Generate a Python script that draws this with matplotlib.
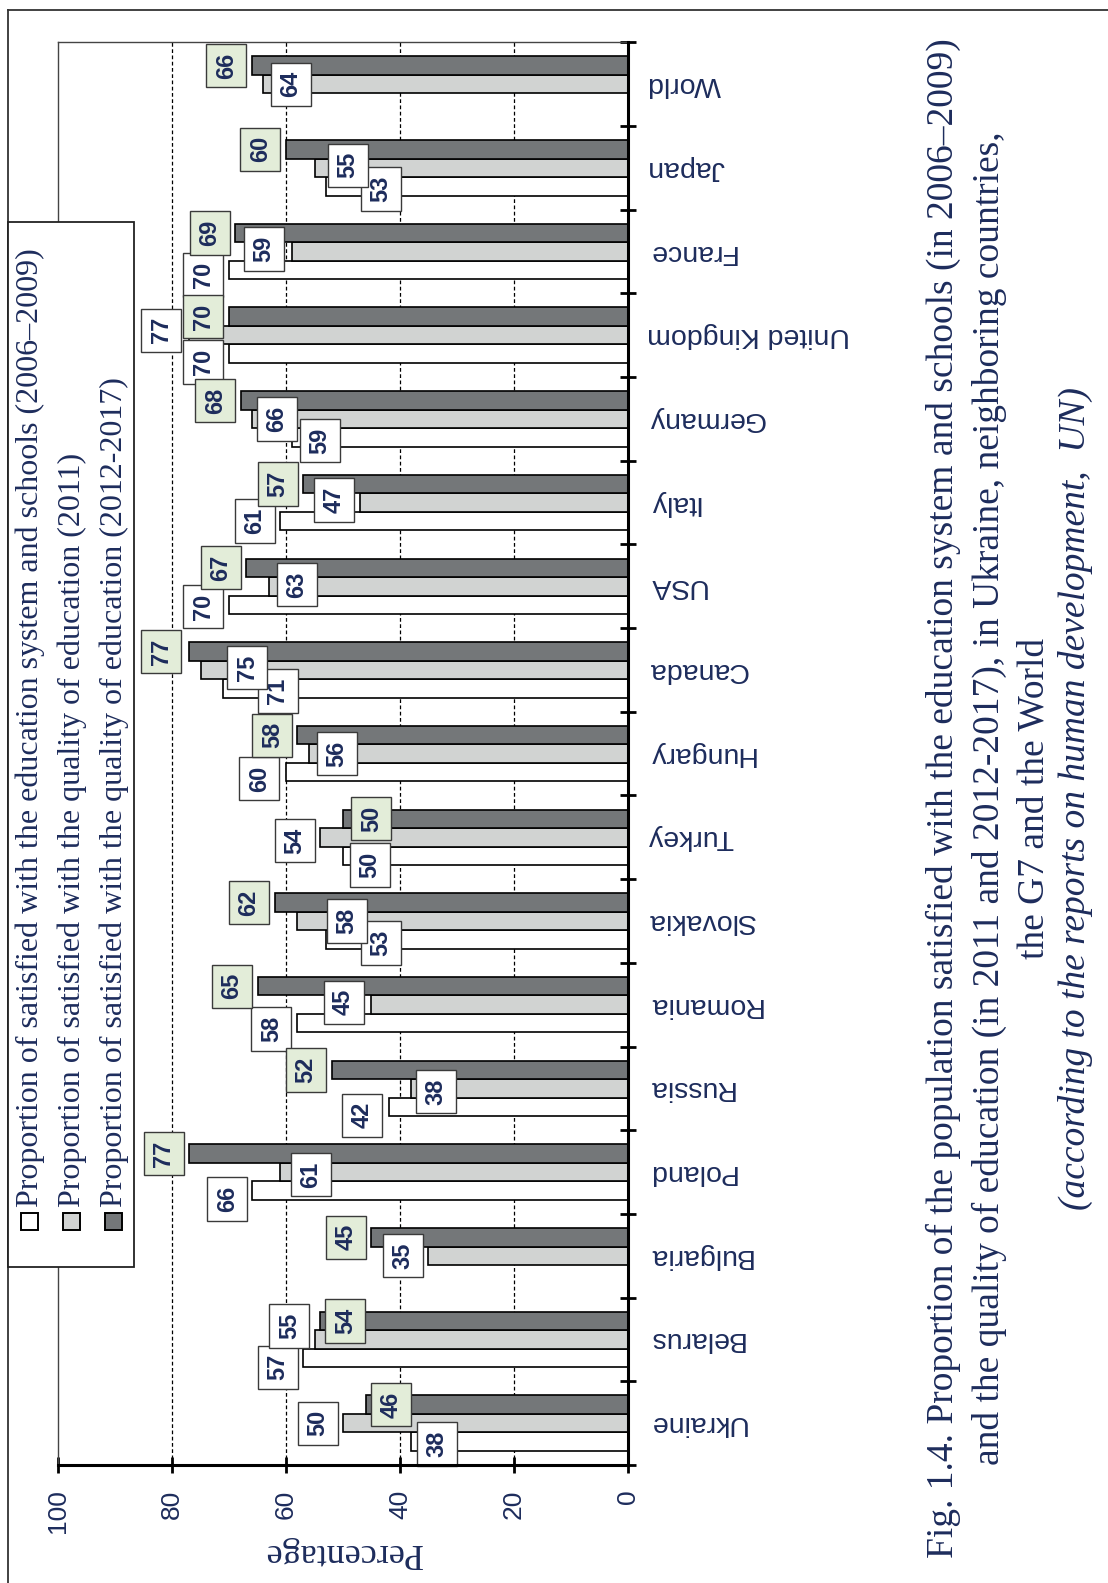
import numpy as np
import matplotlib
matplotlib.use("Agg")
import matplotlib.pyplot as plt
from matplotlib.patches import Rectangle
from matplotlib.lines import Line2D

# ---------------- data ----------------
countries = ["Ukraine", "Belarus", "Bulgaria", "Poland", "Russia", "Romania",
             "Slovakia", "Turkey", "Hungary", "Canada", "USA", "Italy",
             "Germany", "United Kingdom", "France", "Japan", "World"]
sat_2006_2009 = [38, 57, np.nan, 66, 42, 58, 53, 50, 60, 71, 70, 61, 59, 70, 70, 53, np.nan]
sat_2011 = [50, 55, 35, 61, 38, 45, 58, 54, 56, 75, 63, 47, 66, 77, 59, 55, 64]
sat_2012_2017 = [46, 54, 45, 77, 52, 65, 62, 50, 58, 77, 67, 57, 68, 70, 69, 60, 66]

series_names = [
    "Proportion of satisfied with the education system and schools (2006\u20132009)",
    "Proportion of satisfied with the quality of education (2011)",
    "Proportion of satisfied with the quality of education (2012-2017)",
]
x_ticks = [0, 20, 40, 60, 80, 100]

# label nudges: dx in percent from bar end, dy in category units (positive = down)
lab_dx_2006 = [-4.5, 4.5, 0, 4.3, 4.6, 4.6, -9.6, -4.7, 4.7, -9.5, 4.5, 4.5, -4.9, 4.5, 4.5, -9.6, 0]
lab_dy_2006 = [0.03, 0.11, 0, 0.10, 0.10, 0.07, 0.04, 0.11, 0.08, 0.03, 0.02, 0.0, 0.04, 0.10, 0.06, 0.03, 0]
lab_dx_2011 = [4.4, 4.4, 4.4, -5.4, -4.4, 4.9, -8.7, 4.5, -4.9, -8.2, -4.9, 4.5, -4.4, 4.9, 4.9, -5.8, -4.8]
lab_dy_2011 = [0.0, -0.16, 0.0, 0.03, 0.04, -0.03, 0.0, 0.04, 0.0, -0.03, -0.02, -0.03, 0.0, -0.06, -0.03, -0.03, 0.0]
lab_dx_2012 = [-4.5, -4.4, 4.4, 4.5, 4.5, 4.5, 4.5, -5.0, 4.4, 4.9, 4.5, 4.4, 4.4, 4.5, 4.4, 4.5, 4.5]
lab_dy_2012 = [0.0] * 17

# ---------------- style ----------------
W, H = 1108, 1583
NAVY = "#1d2c5c"
SANS = ["Liberation Sans", "DejaVu Sans"]
SERIF = ["Liberation Serif", "DejaVu Serif"]
bar_colors = ["#ffffff", "#d1d3d2", "#747779"]
box_colors = ["#ffffff", "#ffffff", "#e3edd9"]

fig = plt.figure(figsize=(W / 100, H / 100), dpi=100)
fig.patch.set_facecolor("white")


def fx(px):
    return px / W


def fy(py):
    return 1 - py / H


ax_left, ax_right, ax_top, ax_bottom = 58.3, 627.7, 42.3, 1465.0
ax = fig.add_axes([fx(ax_left), fy(ax_bottom), fx(ax_right - ax_left),
                   (ax_bottom - ax_top) / H])

n = len(countries)
ypos = np.arange(n)
bh = 0.221
offsets = [-bh, 0.0, bh]
all_series = [sat_2006_2009, sat_2011, sat_2012_2017]
all_dx = [lab_dx_2006, lab_dx_2011, lab_dx_2012]
all_dy = [lab_dy_2006, lab_dy_2011, lab_dy_2012]

for vals, off, col in zip(all_series, offsets, bar_colors):
    ax.barh(ypos + off, vals, height=bh, color=col, edgecolor="black",
            linewidth=1.2, zorder=3)

for vals, off, dxs, dys, bc in zip(all_series, offsets, all_dx, all_dy, box_colors):
    for i, v in enumerate(vals):
        if np.isnan(v):
            continue
        ax.text(v + dxs[i], ypos[i] + off - dys[i], f"{v:g}", rotation=90,
                ha="center", va="center", fontsize=17, fontweight="bold",
                family=SANS, color=NAVY, zorder=5,
                bbox=dict(boxstyle="square,pad=0.36", fc=bc, ec="#3a3a3a", lw=1.0))

ax.set_xlim(100, 0)
ax.set_ylim(-0.5, n - 0.5)

# dashed gridlines
for g in [20, 40, 60, 80]:
    ax.axvline(g, color="black", lw=0.9, ls=(0, (3, 2)), zorder=1)

# spines
for s in ["top", "left"]:
    ax.spines[s].set_color("#444444")
    ax.spines[s].set_linewidth(1.0)
for s in ["right", "bottom"]:
    ax.spines[s].set_color("black")
    ax.spines[s].set_linewidth(2.2)
ax.spines["right"].set_zorder(6)
ax.spines["bottom"].set_zorder(6)

# x axis (percentage)
ax.set_xticks(x_ticks)
ax.set_xticklabels([str(t) for t in x_ticks], rotation=90, family=SANS,
                   fontsize=19, color=NAVY)
ax.tick_params(axis="x", direction="inout", length=11, width=2.0, pad=12)

# y axis: boundary ticks on right, country names between them
ax.yaxis.tick_right()
ax.set_yticks(np.arange(-0.5, n, 1.0))
ax.set_yticklabels([])
ax.tick_params(axis="y", which="major", direction="inout", length=12,
               width=2.0, right=True, left=False)
ax.set_yticks(ypos, minor=True)
ax.set_yticklabels(countries, minor=True, rotation=180, family=SANS,
                   fontsize=20.5, color=NAVY, ha="left", va="center")
ax.tick_params(axis="y", which="minor", length=0, pad=14, right=True,
               left=False, labelright=True)

fig.text(fx(342.5), fy(1552), "Percentage", rotation=180, ha="center",
         va="center", family=SERIF, fontsize=26, color=NAVY)

# legend panel
leg_l, leg_r, leg_t, leg_b = 8.3, 134.3, 221.7, 1266.7
fig.add_artist(Rectangle((fx(leg_l), fy(leg_b)), fx(leg_r - leg_l),
                         (leg_b - leg_t) / H, transform=fig.transFigure,
                         fc="white", ec="#222222", lw=1.3, zorder=10))
for k, (name, col) in enumerate(zip(series_names, bar_colors)):
    cx = 29.5 + 41.9 * k
    sq = 17.0
    fig.add_artist(Rectangle((fx(cx - sq / 2), fy(1230)), fx(sq), sq / H,
                             transform=fig.transFigure, fc=col, ec="black",
                             lw=1.4, zorder=11))
    fig.text(fx(cx + 1), fy(1207), name, rotation=90, ha="center",
             va="bottom", family=SERIF, fontsize=23, color=NAVY, zorder=12)

# page frame
fig.add_artist(Line2D([fx(8.3), 1.0], [fy(10), fy(10)], transform=fig.transFigure,
                      color="#333333", lw=1.3))
fig.add_artist(Line2D([fx(8.3), fx(8.3)], [fy(10), 0.0], transform=fig.transFigure,
                      color="#333333", lw=1.3))

# caption
caption = [
    ("Fig. 1.4. Proportion of the population satisfied with the education system and schools (in 2006\u20132009)", "normal", 943.5),
    ("and the quality of education (in 2011 and 2012-2017), in Ukraine, neighboring countries,", "normal", 989),
    ("the G7 and the World", "normal", 1034),
    ("(according to the reports on human development,  UN)", "italic", 1075),
]
for txt, style, cx in caption:
    fig.text(fx(cx), fy(798), txt, rotation=90, ha="center", va="center",
             family=SERIF, fontsize=27, style=style, color=NAVY)

fig.savefig("out.png", dpi=100)
